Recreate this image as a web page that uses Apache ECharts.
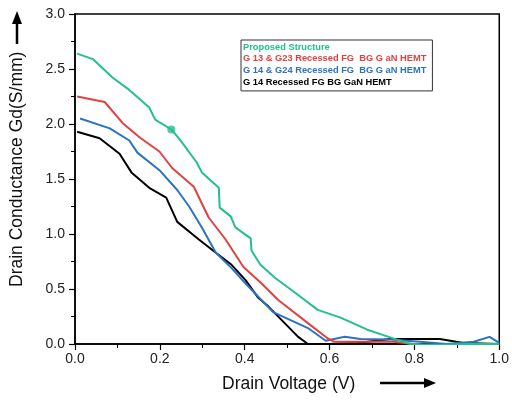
<!DOCTYPE html>
<html><head><meta charset="utf-8">
<script src="https://cdn.jsdelivr.net/npm/echarts@6/dist/echarts.min.js"></script>
<style>html,body{margin:0;padding:0;background:#fff}#c{width:512px;height:401px}</style>
</head><body><div id="c"></div>
<script>
const seriesNames = ["Proposed Structure", "G 13 & G23 Recessed FG  BG G aN HEMT", "G 14 & G24 Recessed FG  BG G aN HEMT", "G 14 Recessed FG BG GaN HEMT"];
const seriesColors = ["#22c08c", "#e0423f", "#2b72c4", "#000000"];
const greenData = [[0.005,2.64],[0.042,2.59],[0.089,2.42],[0.128,2.31],[0.175,2.15],[0.189,2.04],[0.227,1.95],[0.245,1.87],[0.287,1.65],[0.299,1.56],[0.339,1.42],[0.341,1.24],[0.367,1.16],[0.378,1.06],[0.414,0.96],[0.416,0.85],[0.437,0.72],[0.472,0.60],[0.526,0.445],[0.572,0.31],[0.626,0.24],[0.689,0.13],[0.743,0.06],[0.79,0.0],[0.85,-0.01],[0.92,0.0],[1.0,0.0]];
const redData = [[0.005,2.25],[0.07,2.2],[0.112,2.01],[0.152,1.88],[0.199,1.75],[0.229,1.6],[0.28,1.43],[0.315,1.15],[0.355,0.95],[0.397,0.70],[0.44,0.55],[0.479,0.40],[0.549,0.19],[0.596,0.05],[0.612,0.02],[0.7,0.02],[0.75,0.02],[0.82,-0.01],[0.9,-0.01],[1.0,0.0]];
const blueData = [[0.012,2.05],[0.082,1.96],[0.128,1.85],[0.147,1.74],[0.199,1.58],[0.241,1.40],[0.269,1.25],[0.299,1.06],[0.332,0.83],[0.369,0.69],[0.402,0.55],[0.467,0.29],[0.549,0.145],[0.591,0.03],[0.636,0.065],[0.673,0.045],[0.743,0.04],[0.813,0.02],[0.876,0.0],[0.94,0.02],[0.977,0.065],[1.0,0.01]];
const blackData = [[0.005,1.93],[0.058,1.87],[0.105,1.73],[0.133,1.56],[0.175,1.42],[0.215,1.33],[0.241,1.11],[0.292,0.95],[0.332,0.83],[0.369,0.72],[0.402,0.58],[0.432,0.42],[0.456,0.34],[0.526,0.065],[0.549,0.0],[0.596,0.0],[0.666,0.01],[0.743,0.045],[0.86,0.045],[0.916,0.01],[1.0,0.0]];
const markerPoint = [[0.227,1.95]];
const xTicks = [0, 0.2, 0.4, 0.6, 0.8, 1.0];
const yTicks = [0, 0.5, 1.0, 1.5, 2.0, 2.5, 3.0];

const allData = [greenData, redData, blueData, blackData];
const chart = echarts.init(document.getElementById('c'), null, {renderer:'canvas'});
const font = 'Liberation Sans, Arial, sans-serif';
const series = allData.map((d,i)=>({
  name: seriesNames[i], type:'line', data:d, showSymbol:false, symbol:'none',
  lineStyle:{color:seriesColors[i], width:2}, itemStyle:{color:seriesColors[i]}, z: 10-i, animation:false
}));
series.push({type:'scatter', data:markerPoint, symbolSize:8, itemStyle:{color:seriesColors[0]}, z:20, animation:false, silent:true});
chart.setOption({
  animation:false,
  grid:{left:75, right:9, top:14, bottom:57, show:true, borderColor:'#000', borderWidth:1.5, backgroundColor:'transparent'},
  legend:{
    orient:'vertical', left:241, top:40,
    data: seriesNames.map((n,i)=>({name:n, icon:'none', textStyle:{color:seriesColors[i]}})),
    itemWidth:0, itemHeight:10, itemGap:2.3,
    borderColor:'#333', borderWidth:1, padding:[2,6,4,2],
    textStyle:{fontFamily:font, fontSize:9.3, fontWeight:'bold', padding:[0,0,0,-5]},
    selectedMode:false
  },
  xAxis:{
    type:'value', min:0, max:1, interval:0.2,
    axisLine:{show:true, onZero:false, lineStyle:{color:'#000', width:1.5}},
    axisTick:{show:true, inside:false, length:6, lineStyle:{color:'#000', width:1.2}},
    minorTick:{show:true, splitNumber:2, length:4, lineStyle:{color:'#000', width:1}},
    splitLine:{show:false},
    axisLabel:{fontFamily:font, fontSize:14, color:'#222', margin:8, formatter:v=>v.toFixed(1)}
  },
  yAxis:{
    type:'value', min:0, max:3, interval:0.5,
    axisLine:{show:true, lineStyle:{color:'#000', width:1.5}},
    axisTick:{show:true, inside:false, length:6, lineStyle:{color:'#000', width:1.2}},
    minorTick:{show:true, splitNumber:2, length:4, lineStyle:{color:'#000', width:1}},
    splitLine:{show:false},
    axisLabel:{fontFamily:font, fontSize:14, color:'#222', margin:10, formatter:v=>v.toFixed(1)}
  },
  graphic:[
    {type:'text', style:{text:'Drain Voltage (V)', font:'17.5px '+font, fill:'#111'}, left:222, top:375},
    {type:'line', shape:{x1:380, y1:383, x2:426, y2:383}, style:{stroke:'#000', lineWidth:2.5}},
    {type:'polygon', shape:{points:[[424,378],[436,383],[424,388]]}, style:{fill:'#000'}},
    {type:'text', rotation:Math.PI/2, x:8, y:287, style:{text:'Drain Conductance Gd(S/mm)', font:'17.5px '+font, fill:'#111', textVerticalAlign:'top'}},
    {type:'line', shape:{x1:17, y1:22, x2:17, y2:44}, style:{stroke:'#000', lineWidth:2.5}},
    {type:'polygon', shape:{points:[[12,24],[17,11],[22,24]]}, style:{fill:'#000'}}
  ],
  series: series
});
</script></body></html>
